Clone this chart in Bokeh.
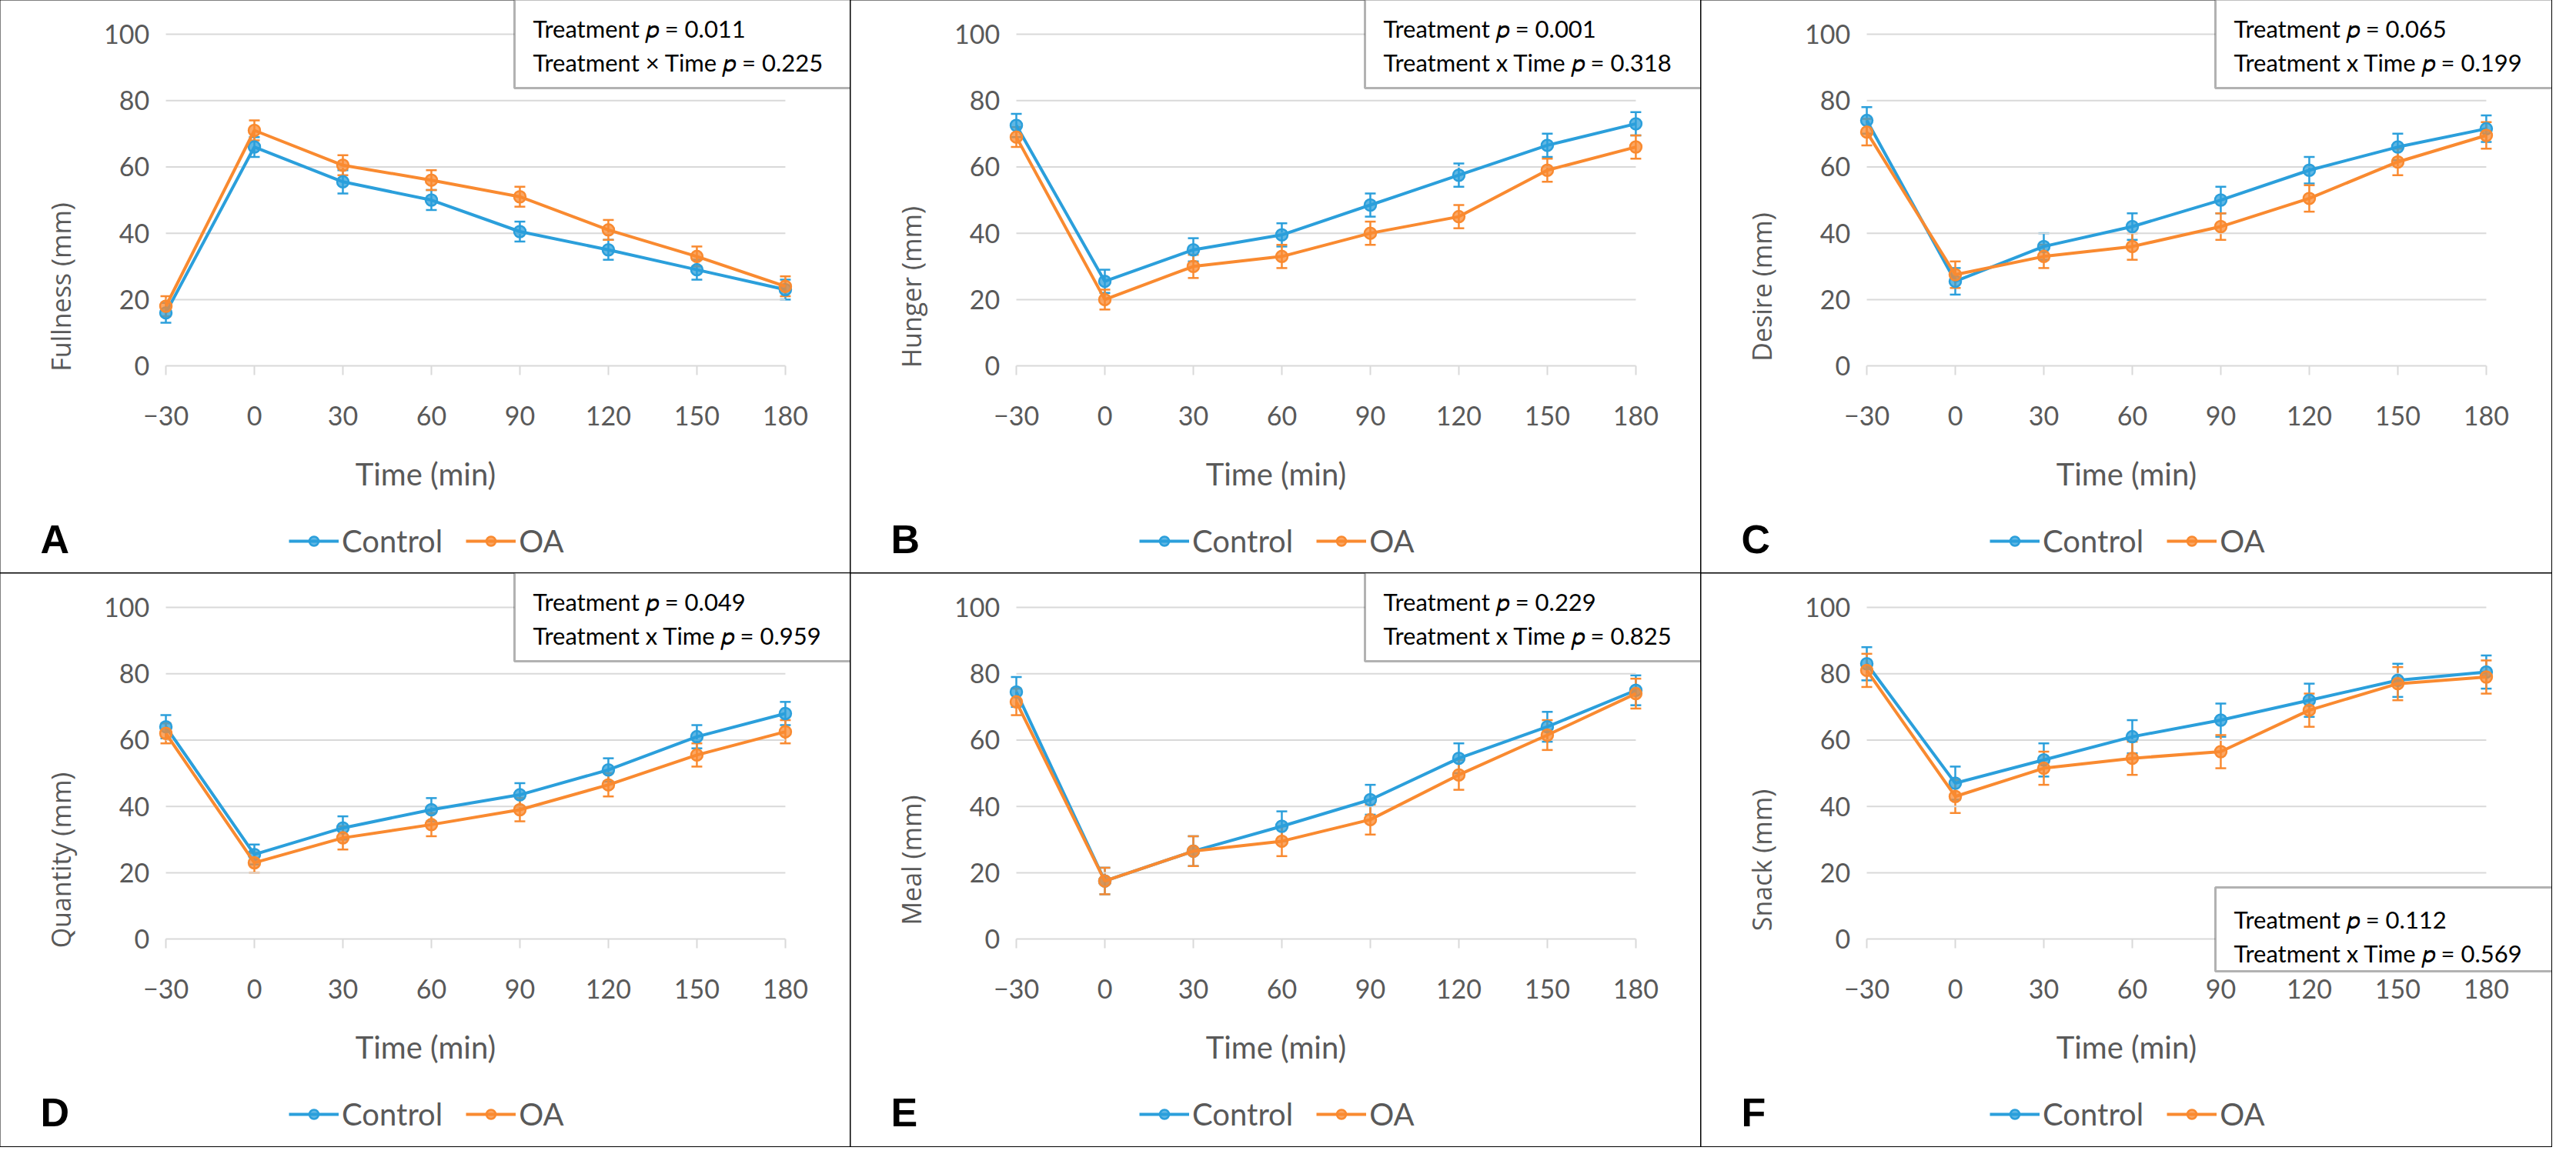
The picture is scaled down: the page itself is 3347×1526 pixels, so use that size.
from bokeh.plotting import figure
from bokeh.layouts import gridplot
from bokeh.models import (ColumnDataSource, Whisker, TeeHead, FixedTicker, Label,
                          BoxAnnotation, Legend, LegendItem, LinearAxis)
from bokeh.embed import file_html
from bokeh.resources import INLINE

times = [-30, 0, 30, 60, 90, 120, 150, 180]
ylabels = ["Fullness (mm)", "Hunger (mm)", "Desire (mm)", "Quantity (mm)", "Meal (mm)", "Snack (mm)"]
letters = ["A", "B", "C", "D", "E", "F"]
treat_p = ["0.011", "0.001", "0.065", "0.049", "0.229", "0.112"]
inter_p = ["0.225", "0.318", "0.199", "0.959", "0.825", "0.569"]
inter_sym = ["×", "x", "x", "x", "x", "x"]

control = [
    [16, 66, 55.5, 50, 40.5, 35, 29, 23],
    [72.5, 25.5, 35, 39.5, 48.5, 57.5, 66.5, 73],
    [74, 25.5, 36, 42, 50, 59, 66, 71.5],
    [64, 25.5, 33.5, 39, 43.5, 51, 61, 68],
    [74.5, 17.5, 26.5, 34, 42, 54.5, 64, 75],
    [83, 47, 54, 61, 66, 72, 78, 80.5],
]
control_se = [
    [3, 3, 3.5, 3, 3, 3, 3, 3],
    [3.5, 3.5, 3.5, 3.5, 3.5, 3.5, 3.5, 3.5],
    [4, 4, 4, 4, 4, 4, 4, 4],
    [3.5, 3, 3.5, 3.5, 3.5, 3.5, 3.5, 3.5],
    [4.5, 4, 4.5, 4.5, 4.5, 4.5, 4.5, 4.5],
    [5, 5, 5, 5, 5, 5, 5, 5],
]
oa = [
    [18, 71, 60.5, 56, 51, 41, 33, 24],
    [69, 20, 30, 33, 40, 45, 59, 66],
    [70.5, 27.5, 33, 36, 42, 50.5, 61.5, 69.5],
    [62, 23, 30.5, 34.5, 39, 46.5, 55.5, 62.5],
    [71.5, 17.5, 26.5, 29.5, 36, 49.5, 61.5, 74],
    [81, 43, 51.5, 54.5, 56.5, 69, 77, 79],
]
oa_se = [
    [3, 3, 3, 3, 3, 3, 3, 3],
    [3, 3, 3.5, 3.5, 3.5, 3.5, 3.5, 3.5],
    [4, 4, 3.5, 4, 4, 4, 4, 4],
    [3, 3, 3.5, 3.5, 3.5, 3.5, 3.5, 3.5],
    [4, 4, 4.5, 4.5, 4.5, 4.5, 4.5, 4.5],
    [5, 5, 5, 5, 5, 5, 5, 5],
]
yticks = [0, 20, 40, 60, 80, 100]

BLUE = "#2B9FDB"
ORANGE = "#F98A30"
GREY = "#595959"
FONT = "Lato"
W, H = 1105, 745


def make_panel(i):
    p = figure(width=W, height=H, x_range=(-86.1, 202.2), y_range=(-62.6, 110.2),
               output_backend="svg", toolbar_location=None,
               x_axis_location=None, y_axis_location=None,
               min_border=0, outline_line_color=None,
               background_fill_color="white", border_fill_color="white")
    p.styles = {"outline": "3px solid black", "outline-offset": "-2px"}
    p.xgrid.visible = False
    p.ygrid.visible = False
    p.segment(x0=[times[0]] * len(yticks), x1=[times[-1]] * len(yticks), y0=yticks, y1=yticks,
              line_color="#D9D9D9", line_width=2)
    xa = LinearAxis(fixed_location=0, ticker=FixedTicker(ticks=times))
    xa.axis_line_color = None
    xa.major_tick_line_color = "#D9D9D9"
    xa.major_tick_line_width = 2
    xa.major_tick_in = 0
    xa.major_tick_out = 12
    xa.minor_tick_line_color = None
    xa.major_label_text_font = FONT
    xa.major_label_text_font_size = "34px"
    xa.major_label_text_color = GREY
    xa.major_label_standoff = 40
    xa.axis_label = "Time (min)"
    xa.axis_label_text_font = FONT
    xa.axis_label_text_font_size = "40px"
    xa.axis_label_text_font_style = "normal"
    xa.axis_label_text_color = GREY
    xa.axis_label_standoff = 36
    p.add_layout(xa, "below")
    ya = LinearAxis(fixed_location=-34, ticker=FixedTicker(ticks=yticks))
    ya.axis_line_color = None
    ya.major_tick_line_color = None
    ya.minor_tick_line_color = None
    ya.major_label_text_font = FONT
    ya.major_label_text_font_size = "34px"
    ya.major_label_text_color = GREY
    ya.major_label_standoff = 0
    ya.axis_label = ylabels[i]
    ya.axis_label_text_font = "Open Sans"
    ya.axis_label_text_font_size = "34px"
    ya.axis_label_text_font_style = "normal"
    ya.axis_label_text_color = GREY
    ya.axis_label_standoff = 30
    p.add_layout(ya, "left")

    items = []
    for name, vals, se, col in [("Control", control[i], control_se[i], BLUE),
                                ("OA", oa[i], oa_se[i], ORANGE)]:
        src = ColumnDataSource(dict(x=times, y=vals,
                                    lo=[v - s for v, s in zip(vals, se)],
                                    hi=[v + s for v, s in zip(vals, se)]))
        w = Whisker(source=src, base="x", upper="hi", lower="lo", line_color=col, line_width=2.5,
                    upper_head=TeeHead(size=14, line_color=col, line_width=2.5),
                    lower_head=TeeHead(size=14, line_color=col, line_width=2.5))
        p.add_layout(w)
        ln = p.line("x", "y", source=src, line_color=col, line_width=4)
        sc = p.scatter("x", "y", source=src, size=15, fill_color=col, fill_alpha=0.75,
                       line_color=col, line_width=2.5)
        items.append(LegendItem(label=name, renderers=[ln, sc]))
    leg = Legend(items=items, orientation="horizontal", location=(375, 18),
                 label_text_font=FONT, label_text_font_size="40px", label_text_color=GREY,
                 glyph_width=65, glyph_height=30, spacing=30, background_fill_alpha=0,
                 border_line_color=None, label_standoff=4, padding=4, margin=0)
    p.add_layout(leg)

    p.add_layout(Label(x=52, y=16, x_units="screen", y_units="screen", text=letters[i],
                       text_font="Liberation Sans", text_font_style="bold", text_font_size="52px",
                       text_color="black"))

    if i == 5:
        top, bot = 332, 228
    else:
        top, bot = H, H - 114
    left = 668
    p.add_layout(BoxAnnotation(left=left, right=W + 5, top=top + 5, bottom=bot,
                               left_units="screen", right_units="screen", top_units="screen",
                               bottom_units="screen", fill_color="white", fill_alpha=1,
                               line_color="black", line_width=3))
    common = dict(x_units="screen", y_units="screen", text_font=FONT, text_font_size="31px",
                  text_color="black", text_baseline="middle")
    tx = left + 24
    p.add_layout(Label(x=tx, y=top - 36, text="Treatment 𝑝 = " + treat_p[i], **common))
    p.add_layout(Label(x=tx, y=top - 80,
                       text="Treatment " + inter_sym[i] + " Time 𝑝 = " + inter_p[i], **common))
    return p


panels = [make_panel(i) for i in range(6)]
grid = gridplot([panels[0:3], panels[3:6]], toolbar_location=None)
open("out.html", "w").write(file_html(grid, INLINE))
